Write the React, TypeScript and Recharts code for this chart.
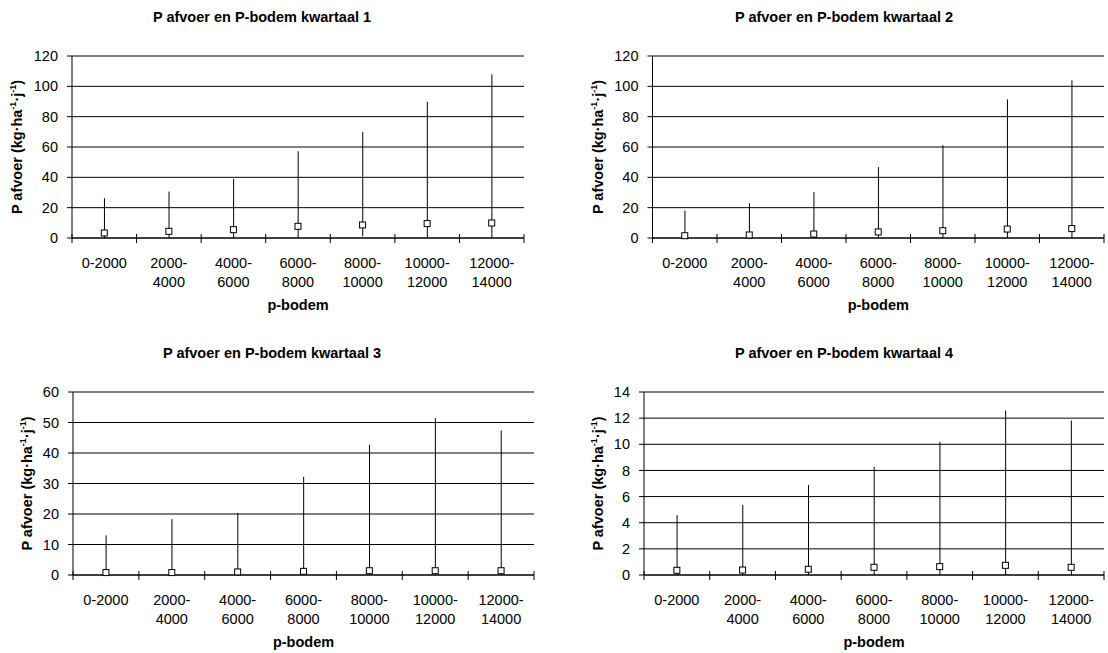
import React from 'react'
import { ComposedChart, Bar, Line, XAxis, YAxis, CartesianGrid } from 'recharts'

const CATEGORIES = ['0-2000', '2000-4000', '4000-6000', '6000-8000', '8000-10000', '10000-12000', '12000-14000']
const CATEGORY_LINES = [
  ['0-2000'],
  ['2000-', '4000'],
  ['4000-', '6000'],
  ['6000-', '8000'],
  ['8000-', '10000'],
  ['10000-', '12000'],
  ['12000-', '14000'],
]

// kwartaal 1
const Q1_MEAN = [3.3, 4.4, 5.5, 7.7, 8.6, 9.5, 9.9]
const Q1_MAX = [26.2, 30.6, 39.0, 57.2, 69.8, 89.8, 107.9]
const Q1_MIN = [0, 0, 0, 0, 1.1, 0, 0]
// kwartaal 2
const Q2_MEAN = [1.5, 2.0, 2.6, 4.0, 4.8, 5.9, 6.2]
const Q2_MAX = [18.0, 23.0, 30.2, 46.7, 61.2, 91.4, 104.0]
const Q2_MIN = [0, 0, 0, 0, 0, 0, 0]
// kwartaal 3
const Q3_MEAN = [0.8, 0.8, 1.0, 1.2, 1.4, 1.4, 1.4]
const Q3_MAX = [13.0, 18.3, 20.4, 32.2, 42.7, 51.4, 47.4]
const Q3_MIN = [0, 0, 0, 0, 0, 0, 0]
// kwartaal 4
const Q4_MEAN = [0.36, 0.38, 0.44, 0.59, 0.64, 0.74, 0.59]
const Q4_MAX = [4.58, 5.35, 6.88, 8.29, 10.19, 12.59, 11.82]
const Q4_MIN = [0, 0, 0, 0, 0, 0, 0]

const Y_TICKS_120 = [0, 20, 40, 60, 80, 100, 120]
const Y_TICKS_60 = [0, 10, 20, 30, 40, 50, 60]
const Y_TICKS_14 = [0, 2, 4, 6, 8, 10, 12, 14]

const FONT = "'Liberation Sans', Arial, sans-serif"
const FS = 14.5
const YW = 50
const XH = 50

const build = (mean: number[], min: number[], max: number[]) =>
  CATEGORIES.map((cat, i) => ({ cat, mean: mean[i], range: [min[i], max[i]] }))

const PANELS = [
  {
    title: 'P afvoer en P-bodem kwartaal 1',
    box: { left: 0, top: 0, width: 554, height: 320 },
    plot: { l: 72, r: 524, t: 56, b: 238 },
    titleX: 262, titleY: 21.7, yLabelX: 17,
    ticks: Y_TICKS_120,
    data: build(Q1_MEAN, Q1_MIN, Q1_MAX),
  },
  {
    title: 'P afvoer en P-bodem kwartaal 2',
    box: { left: 554, top: 0, width: 554, height: 320 },
    plot: { l: 98.5, r: 550, t: 56, b: 238 },
    titleX: 290, titleY: 21.7, yLabelX: 44,
    ticks: Y_TICKS_120,
    data: build(Q2_MEAN, Q2_MIN, Q2_MAX),
  },
  {
    title: 'P afvoer en P-bodem kwartaal 3',
    box: { left: 0, top: 320, width: 554, height: 333 },
    plot: { l: 73, r: 534, t: 72, b: 255 },
    titleX: 272, titleY: 38.3, yLabelX: 27,
    ticks: Y_TICKS_60,
    data: build(Q3_MEAN, Q3_MIN, Q3_MAX),
  },
  {
    title: 'P afvoer en P-bodem kwartaal 4',
    box: { left: 554, top: 320, width: 554, height: 333 },
    plot: { l: 90, r: 550, t: 72, b: 255 },
    titleX: 290, titleY: 38.3, yLabelX: 44,
    ticks: Y_TICKS_14,
    data: build(Q4_MEAN, Q4_MIN, Q4_MAX),
  },
]

function CategoryTick(props: any) {
  const { x, payload, axisY, bw } = props
  const idx = payload.index
  const lines = CATEGORY_LINES[idx] || [payload.value]
  return (
    <g>
      <line x1={x - bw / 2} x2={x - bw / 2} y1={axisY - 4} y2={axisY + 5} stroke="#000" />
      {idx === CATEGORIES.length - 1 && (
        <line x1={x + bw / 2} x2={x + bw / 2} y1={axisY - 4} y2={axisY + 5} stroke="#000" />
      )}
      {lines.map((t: string, k: number) => (
        <text key={k} x={x} y={axisY + 30 + k * 18.5} textAnchor="middle" fontSize={FS} fontFamily={FONT} fill="#000">
          {t}
        </text>
      ))}
    </g>
  )
}

function RangeLine(props: any) {
  const { x, y, width, height } = props
  const cx = x + width / 2
  const y1 = Math.min(y, y + height)
  const y2 = Math.max(y, y + height)
  return <line x1={cx} x2={cx} y1={y1} y2={y2} stroke="#000" strokeWidth={1} />
}

function SquareDot(props: any) {
  const { cx, cy, index } = props
  return <rect key={`sq-${index}`} x={cx - 3} y={cy - 3} width={6} height={6} fill="#fff" stroke="#000" strokeWidth={1} />
}

function Panel({ p }: { p: (typeof PANELS)[number] }) {
  const { box, plot, ticks } = p
  const max = ticks[ticks.length - 1]
  const bw = (plot.r - plot.l) / CATEGORIES.length
  const margin = {
    top: plot.t,
    right: box.width - plot.r,
    left: plot.l - YW,
    bottom: box.height - plot.b - XH,
  }
  const cy = (plot.t + plot.b) / 2
  return (
    <div style={{ position: 'absolute', left: box.left, top: box.top, width: box.width, height: box.height }}>
      <ComposedChart width={box.width} height={box.height} data={p.data} margin={margin}>
        <CartesianGrid vertical={false} stroke="#000" />
        <XAxis
          dataKey="cat"
          height={XH}
          interval={0}
          axisLine={{ stroke: '#000' }}
          tickLine={false}
          tick={<CategoryTick axisY={plot.b} bw={bw} />}
        />
        <XAxis xAxisId="top" dataKey="cat" orientation="top" height={0} tick={false} tickLine={false} axisLine={{ stroke: '#808080' }} />
        <YAxis
          width={YW}
          domain={[0, max]}
          ticks={ticks}
          interval={0}
          tickSize={5}
          tickMargin={9}
          axisLine={{ stroke: '#000' }}
          tickLine={{ stroke: '#000' }}
          tick={{ fontSize: FS, fontFamily: FONT, fill: '#000' }}
        />
        <YAxis yAxisId="right" orientation="right" width={0} domain={[0, max]} tick={false} tickLine={false} axisLine={{ stroke: '#808080' }} />
        <Bar dataKey="range" shape={<RangeLine />} isAnimationActive={false} />
        <Line dataKey="mean" stroke="none" dot={SquareDot} activeDot={false} isAnimationActive={false} />
      </ComposedChart>
      <svg
        width={box.width}
        height={box.height}
        style={{ position: 'absolute', left: 0, top: 0, pointerEvents: 'none' }}
        fontFamily={FONT}
      >
        <text x={p.titleX} y={p.titleY} textAnchor="middle" fontSize={FS} fontWeight="bold" fill="#000">
          {p.title}
        </text>
        <text
          x={p.yLabelX}
          y={cy + 5}
          textAnchor="middle"
          fontSize={FS}
          fontWeight="bold"
          fill="#000"
          transform={`rotate(-90, ${p.yLabelX}, ${cy})`}
        >
          P afvoer (kg·ha
          <tspan fontSize={9} dy={-6}>-1</tspan>
          <tspan dy={6}>·j</tspan>
          <tspan fontSize={9} dy={-6}>-1</tspan>
          <tspan dy={6}>)</tspan>
        </text>
        <text x={(plot.l + plot.r) / 2} y={plot.b + 72} textAnchor="middle" fontSize={FS} fontWeight="bold" fill="#000">
          p-bodem
        </text>
      </svg>
    </div>
  )
}

export default function App() {
  return (
    <div style={{ position: 'absolute', left: 0, top: 0, width: 1108, height: 653, background: '#fff' }}>
      {PANELS.map((p) => (
        <Panel key={p.title} p={p} />
      ))}
    </div>
  )
}
